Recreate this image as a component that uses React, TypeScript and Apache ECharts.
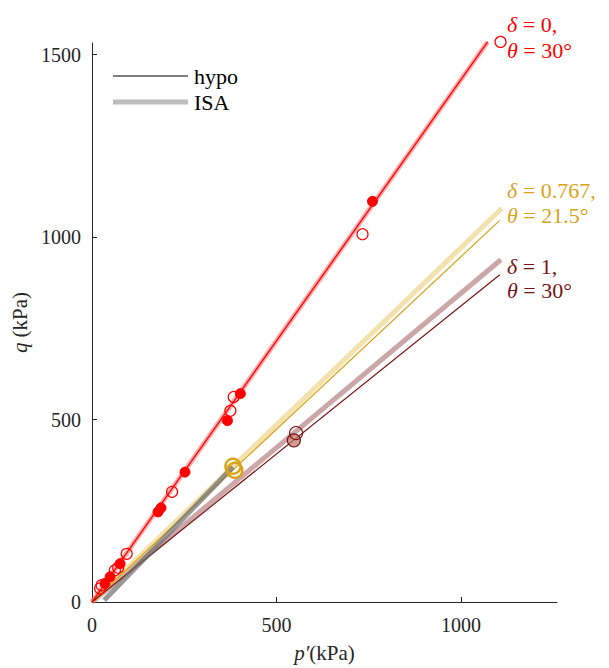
import React, { useEffect, useRef } from "react";
import * as echarts from "echarts";

// ---- data (kPa) ----
const xTicks = [0, 500, 1000];
const yTicks = [0, 500, 1000, 1500];

const redHypo = [[0, 0], [1072, 1535]];
const redISA = [[0, 0], [1072, 1535]];
const goldHypo = [[0, 0], [1105, 1046]];
const goldISA = [[0, 0], [1111, 1079]];
const maroonHypo = [[0, 0], [1105, 897]];
const maroonISA = [[0, 0], [1108, 938]];
const grayISA = [[33, 5], [382, 370]];

const redFilled = [
  [760, 1098], [402, 571], [367, 497], [252, 356], [187, 258], [179, 247],
  [76, 105], [49, 69], [35, 51],
];
const redOpen = [
  [1107, 1535], [733, 1008], [384, 562], [375, 524], [217, 302], [94, 132],
  [71, 94], [62, 87], [26, 46], [22, 37],
];
const goldOpen = [[382, 372], [387, 361]];
const maroonOpen = [[553, 463]];
const maroonFilled = [[547, 443]];

const FONT = "'Liberation Serif', 'Times New Roman', serif";
const RED = "#ff0000";
const GOLD = "#d9a31a";
const MAROON = "#7a1414";

export default function App() {
  const ref = useRef<HTMLDivElement>(null);
  useEffect(() => {
    if (!ref.current) return;
    const chart = echarts.init(ref.current, undefined, { renderer: "svg" });
    const line = (data: number[][], color: string, width: number, z = 2) => ({
      type: "line",
      data,
      showSymbol: false,
      symbol: "none",
      silent: true,
      clip: false,
      z,
      lineStyle: { color, width, cap: "butt" },
    });
    const scatter = (data: number[][], fill: string, border: string, size: number, bw: number, z = 5) => ({
      type: "scatter",
      data,
      symbol: "circle",
      symbolSize: size,
      clip: false,
      z,
      itemStyle: { color: fill, borderColor: border, borderWidth: bw, opacity: 1 },
    });
    const italic = { fontStyle: "italic", fontFamily: FONT, fontSize: 22 };
    const annot = (x: number, y: number, text: string, color: string) => ({
      type: "text",
      x,
      y,
      style: {
        text,
        fill: color,
        font: `22px ${FONT}`,
        fontFamily: FONT,
        fontSize: 22,
        textVerticalAlign: "middle",
        rich: { i: { ...italic, fill: color, color } },
      },
    });
    const fmt = (v: number) => String(v);
    chart.setOption({
      animation: false,
      grid: { left: 92, right: 52, top: 43, bottom: 61, containLabel: false },
      xAxis: {
        type: "value",
        min: 0,
        max: 1260,
        interval: 500,
        splitLine: { show: false },
        axisLine: { lineStyle: { color: "#262626", width: 1 } },
        axisTick: { inside: true, length: 5, customValues: xTicks, lineStyle: { color: "#262626" } },
        axisLabel: {
          customValues: xTicks,
          formatter: fmt,
          margin: 13,
          color: "#262626",
          fontFamily: FONT,
          fontSize: 20,
        },
        name: "{i|p′}(kPa)",
        nameLocation: "middle",
        nameGap: 40,
        nameTextStyle: {
          color: "#262626",
          fontFamily: FONT,
          fontSize: 21,
          rich: { i: { fontStyle: "italic", fontFamily: FONT, fontSize: 21, color: "#262626" } },
        },
      },
      yAxis: {
        type: "value",
        min: 0,
        max: 1532,
        interval: 500,
        splitLine: { show: false },
        axisLine: { show: true, lineStyle: { color: "#262626", width: 1 } },
        axisTick: { show: true, inside: true, length: 5, customValues: yTicks, lineStyle: { color: "#262626" } },
        axisLabel: {
          customValues: yTicks,
          formatter: fmt,
          margin: 11,
          color: "#262626",
          fontFamily: FONT,
          fontSize: 20,
        },
        name: "{i|q} (kPa)",
        nameLocation: "middle",
        nameGap: 56,
        nameTextStyle: {
          color: "#262626",
          fontFamily: FONT,
          fontSize: 21,
          rich: { i: { fontStyle: "italic", fontFamily: FONT, fontSize: 21, color: "#262626" } },
        },
      },
      series: [
        line(maroonISA, "rgba(140,60,60,0.45)", 5, 1),
        line(goldISA, "rgba(235,205,120,0.6)", 5, 1),
        line(redISA, "rgba(255,70,70,0.45)", 5, 1),
        line(goldHypo, GOLD, 1.2, 2),
        line(maroonHypo, MAROON, 1.2, 2),
        line(grayISA, "rgba(110,110,110,0.7)", 5, 3),
        line(redHypo, RED, 1.3, 4),
        scatter(redFilled, RED, RED, 10, 1, 6),
        scatter(redOpen, "rgba(0,0,0,0)", RED, 11, 1.2, 6),
        scatter(goldOpen, "rgba(0,0,0,0)", GOLD, 15, 2.5, 6),
        scatter(maroonFilled, "rgba(190,120,100,0.7)", MAROON, 13, 1.2, 6),
        scatter(maroonOpen, "rgba(0,0,0,0)", MAROON, 13, 1.2, 6),
      ],
      graphic: [
        { type: "line", shape: { x1: 113, y1: 76, x2: 188, y2: 76 }, style: { stroke: "#000", lineWidth: 1.2 } },
        { type: "line", shape: { x1: 113, y1: 102, x2: 188, y2: 102 }, style: { stroke: "#bdbdbd", lineWidth: 5 } },
        {
          type: "text", x: 194, y: 76,
          style: { text: "hypo", fill: "#000", font: `22px ${FONT}`, textVerticalAlign: "middle" },
        },
        {
          type: "text", x: 194, y: 102,
          style: { text: "ISA", fill: "#000", font: `22px ${FONT}`, textVerticalAlign: "middle" },
        },
        annot(507, 24, "{i|δ} = 0,", RED),
        annot(507, 50, "{i|θ} = 30°", RED),
        annot(507, 190, "{i|δ} = 0.767,", GOLD),
        annot(507, 215, "{i|θ} = 21.5°", GOLD),
        annot(507, 266, "{i|δ} = 1,", MAROON),
        annot(507, 290, "{i|θ} = 30°", MAROON),
      ],
    });
    return () => chart.dispose();
  }, []);
  return (
    <div
      ref={ref}
      style={{ position: "fixed", left: 0, top: 0, width: 609, height: 668, background: "#fff" }}
    />
  );
}
